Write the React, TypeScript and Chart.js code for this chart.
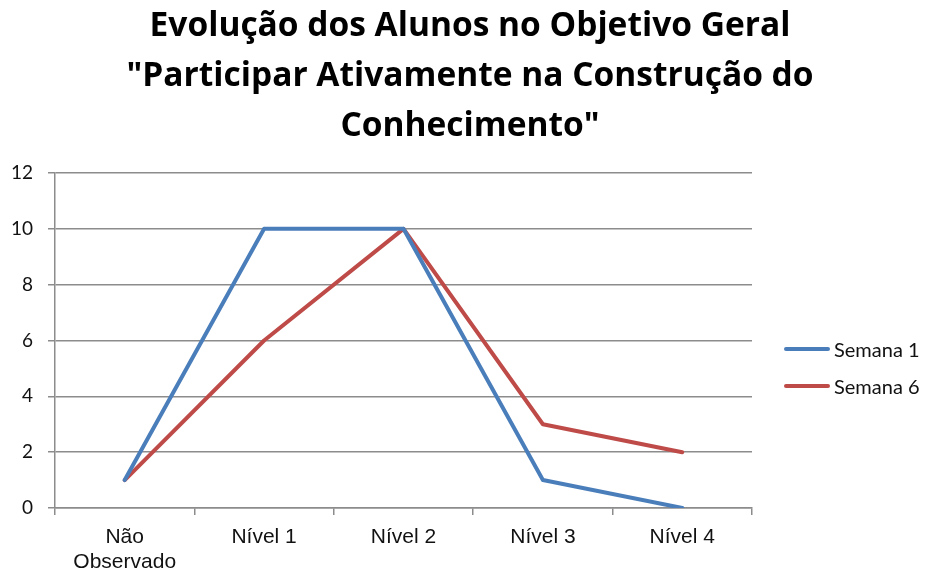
import React, { useEffect, useRef } from "react";
import { Chart, registerables } from "chart.js";

Chart.register(...registerables);

const titleLines = [
  "Evolução dos Alunos no Objetivo Geral",
  "\"Participar Ativamente na Construção do",
  "Conhecimento\"",
];
const categories: (string | string[])[] = [["Não", "Observado"], "Nível 1", "Nível 2", "Nível 3", "Nível 4"];
const semana1 = [1, 10, 10, 1, 0];
const semana6 = [1, 6, 10, 3, 2];
const seriesNames = ["Semana 1", "Semana 6"];
const seriesColors = ["#4A7EBB", "#BE4B48"];
const yMin = 0;
const yMax = 12;
const yStep = 2;

export default function App() {
  const ref = useRef<HTMLCanvasElement | null>(null);

  useEffect(() => {
    if (!ref.current) return;
    const chart = new Chart(ref.current, {
      type: "line",
      data: {
        labels: categories,
        datasets: [
          {
            label: seriesNames[0],
            data: semana1,
            borderColor: seriesColors[0],
            backgroundColor: seriesColors[0],
            borderWidth: 4,
            pointRadius: 0,
            tension: 0,
            borderJoinStyle: "round",
            borderCapStyle: "round",
          },
          {
            label: seriesNames[1],
            data: semana6,
            borderColor: seriesColors[1],
            backgroundColor: seriesColors[1],
            borderWidth: 4,
            pointRadius: 0,
            tension: 0,
            borderJoinStyle: "round",
            borderCapStyle: "round",
          },
        ],
      },
      options: {
        animation: false,
        responsive: false,
        maintainAspectRatio: false,
        layout: { padding: { top: 173, left: 0, right: 173, bottom: 0 } },
        plugins: {
          legend: { display: false },
          title: { display: false },
          tooltip: { enabled: false },
        },
        scales: {
          x: {
            offset: true,
            afterFit: (s: any) => {
              s.height = 65;
            },
            grid: {
              offset: true,
              drawOnChartArea: false,
              drawTicks: true,
              tickLength: 7,
              color: "#8c8c8c",
              lineWidth: 1.5,
            },
            border: { display: true, color: "#8c8c8c", width: 1.5 },
            ticks: {
              color: "#111",
              font: { family: "'Liberation Sans', Arial, sans-serif", size: 21, lineHeight: 1.22 },
              padding: 9,
              maxRotation: 0,
              autoSkip: false,
            },
          },
          y: {
            min: yMin,
            max: yMax,
            afterFit: (s: any) => {
              s.width = 55;
            },
            grid: {
              color: "#8c8c8c",
              lineWidth: 1.5,
              drawTicks: true,
              tickLength: 7,
            },
            border: { display: true, color: "#8c8c8c", width: 1.5 },
            ticks: {
              stepSize: yStep,
              color: "#111",
              font: { family: "Lato, sans-serif", size: 19 },
              padding: 15,
            },
          },
        },
      },
    });
    return () => chart.destroy();
  }, []);

  return (
    <div style={{ position: "fixed", left: 0, top: 0, width: 925, height: 573, background: "#fff" }}>
      <canvas ref={ref} width={925} height={573} style={{ position: "absolute", left: 0, top: 0, width: 925, height: 573 }} />
      <div
        style={{
          position: "absolute",
          left: 0,
          top: -2,
          width: 940,
          textAlign: "center",
          fontFamily: "'Open Sans', sans-serif",
          fontWeight: 700,
          fontSize: 33.5,
          lineHeight: "50px",
          color: "#000",
        }}
      >
        {titleLines.map((t, i) => (
          <div key={i}>{t}</div>
        ))}
      </div>
      {seriesNames.map((name, i) => (
        <div key={name} style={{ position: "absolute", left: 784, top: 349 + i * 37 - 12, height: 24, display: "flex", alignItems: "center" }}>
          <div style={{ width: 46, height: 4, borderRadius: 2, background: seriesColors[i] }} />
          <span style={{ marginLeft: 4, fontFamily: "Lato, sans-serif", fontSize: 20, color: "#111", whiteSpace: "nowrap" }}>{name}</span>
        </div>
      ))}
    </div>
  );
}
